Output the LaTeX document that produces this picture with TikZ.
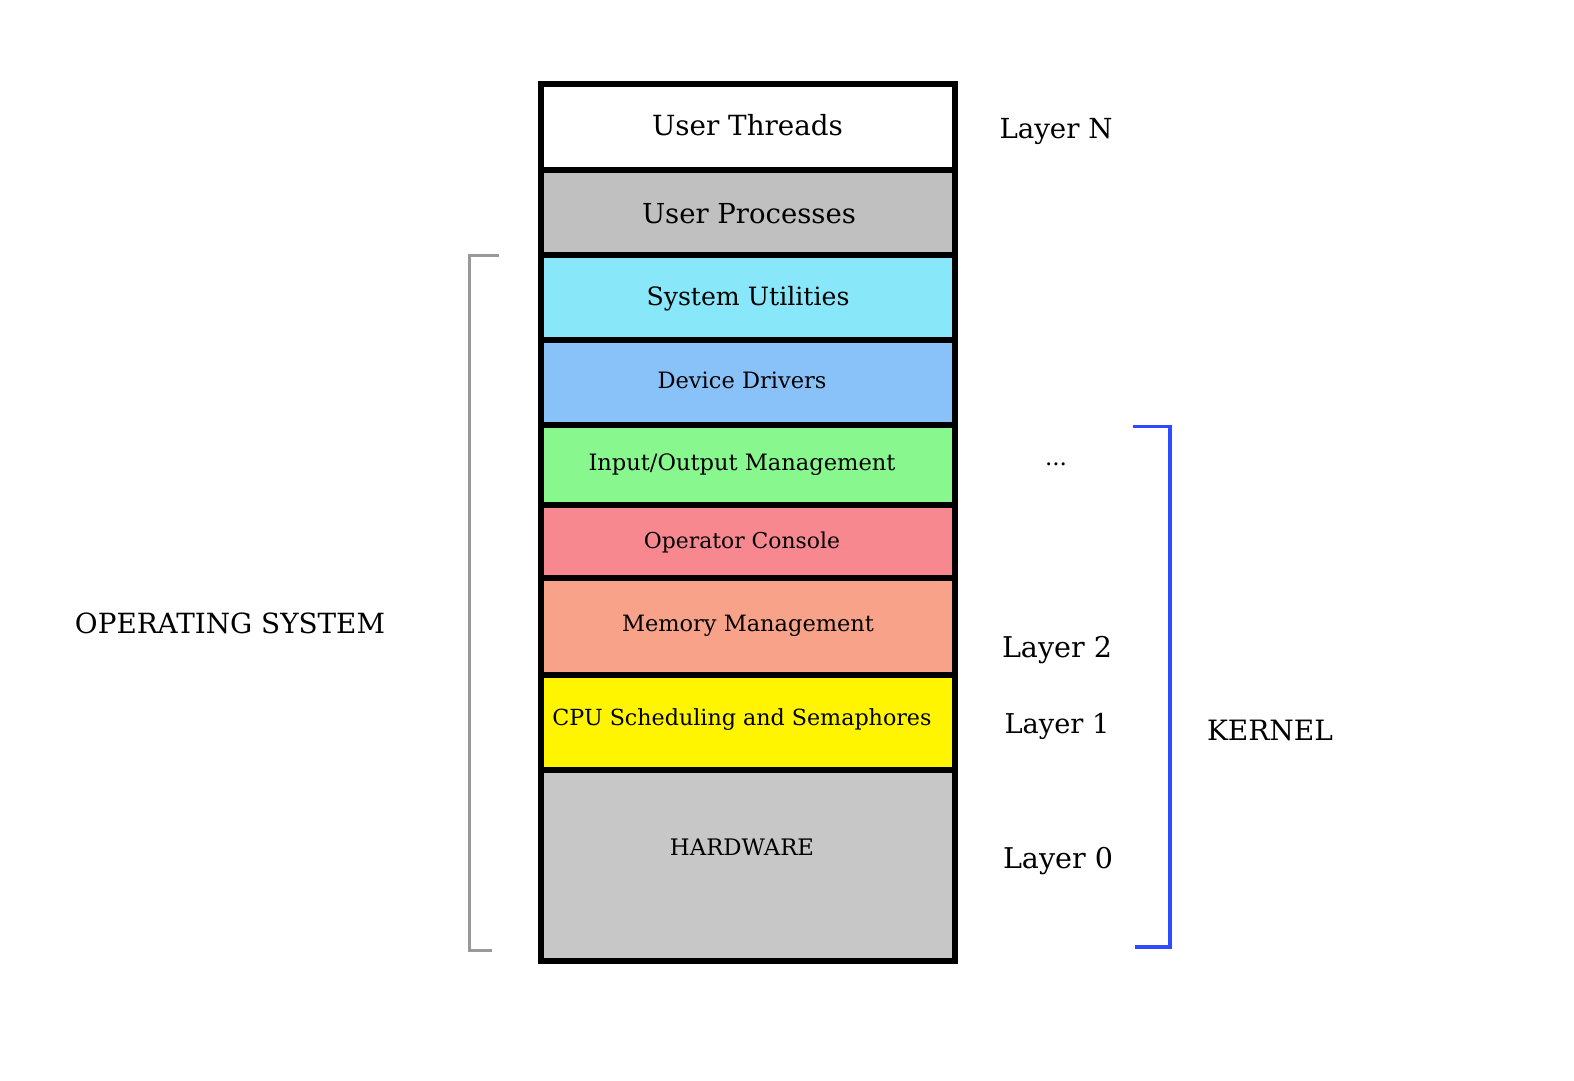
\documentclass[tikz,border=0pt]{standalone}
\usepackage{fontspec}
\setmainfont{DejaVu Serif}
\usepackage{graphicx}
\definecolor{cUT}{HTML}{FFFFFF}
\definecolor{cUP}{HTML}{C0C0C0}
\definecolor{cSU}{HTML}{88E8F9}
\definecolor{cDD}{HTML}{88C2F9}
\definecolor{cIO}{HTML}{88F88E}
\definecolor{cOC}{HTML}{F8888F}
\definecolor{cMM}{HTML}{F8A389}
\definecolor{cCPU}{HTML}{FFF500}
\definecolor{cHW}{HTML}{C7C7C7}
\definecolor{osgray}{HTML}{999999}
\definecolor{kblue}{HTML}{2E4BFF}
\begin{document}
\begin{tikzpicture}[x=1bp,y=-1bp,
  layerbox/.style={draw=black,line width=6bp},
  lbl/.style={inner sep=0pt,anchor=base}]
\useasboundingbox (0,0) rectangle (1574,1080);
\fill[white] (0,0) rectangle (1574,1080);
% layers
\filldraw[layerbox,fill=cUT] (541,83.5) rectangle (955,170);
\filldraw[layerbox,fill=cUP] (541,170) rectangle (955,255);
\filldraw[layerbox,fill=cSU] (541,255) rectangle (955,340);
\filldraw[layerbox,fill=cDD] (541,340) rectangle (955,425);
\filldraw[layerbox,fill=cIO] (541,425) rectangle (955,505);
\filldraw[layerbox,fill=cOC] (541,505) rectangle (955,578);
\filldraw[layerbox,fill=cMM] (541,578) rectangle (955,675);
\filldraw[layerbox,fill=cCPU] (541,675) rectangle (955,770);
\filldraw[layerbox,fill=cHW] (541,770) rectangle (955,961);
\draw[line width=6bp,line join=round] (541,83.5) rectangle (955,961);
% texts
\node[lbl] (ut) at (747.5,135) {\resizebox{191bp}{!}{User Threads}};
\node[lbl] (up) at (749,223) {\resizebox{214bp}{!}{User Processes}};
\node[lbl] (su) at (748,305) {\resizebox{203bp}{!}{System Utilities}};
\node[lbl] (dd) at (742,388) {\resizebox{169bp}{!}{Device Drivers}};
\node[lbl] (io) at (742,470) {\resizebox{307bp}{!}{Input/Output Management}};
\node[lbl] (oc) at (742,548) {\resizebox{196bp}{!}{Operator Console}};
\node[lbl] (mm) at (748,631) {\resizebox{252bp}{!}{Memory Management}};
\node[lbl] (cpu) at (742,725) {\resizebox{379bp}{!}{CPU Scheduling and Semaphores}};
\node[lbl] (hw) at (742,855) {\resizebox{144bp}{!}{HARDWARE}};
% side labels
\node[lbl] (ln) at (1056,138) {\resizebox{113bp}{!}{Layer N}};
\node[lbl] (dots) at (1056,465) {\resizebox{22bp}{!}{...}};
\node[lbl] (l2) at (1057,657) {\resizebox{110bp}{!}{Layer 2}};
\node[lbl] (l1) at (1057,733) {\resizebox{105bp}{!}{Layer 1}};
\node[lbl] (l0) at (1058,868) {\resizebox{110bp}{!}{Layer 0}};
\node[lbl] (kern) at (1270,740) {\resizebox{126bp}{!}{KERNEL}};
\node[lbl] (os) at (230,633) {\resizebox{310bp}{!}{OPERATING SYSTEM}};
% brackets
\coordinate (osT) at (499,255);
\coordinate (osB) at (492,950);
\draw[osgray,line width=3bp] (osT) -- (469,255) -- (469,950) -- (osB);
\coordinate (kT) at (1133,426.5);
\coordinate (kB) at (1135,947);
\draw[kblue,line width=3.5bp] (kT) -- (1170,426.5) -- (1170,947) -- (kB);
\end{tikzpicture}
\end{document}
